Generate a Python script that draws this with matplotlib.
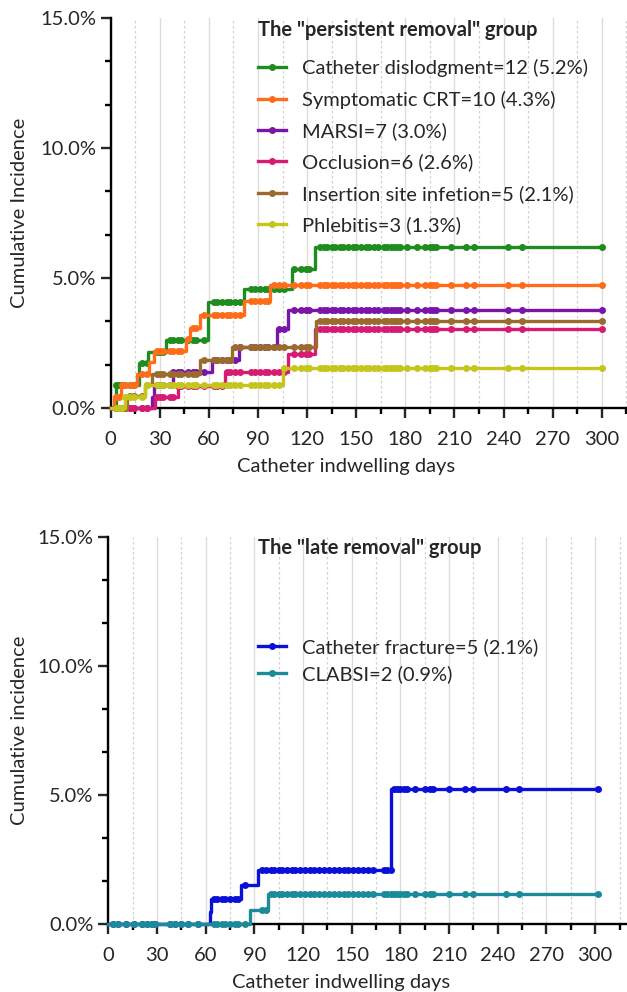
import numpy as np
import matplotlib
matplotlib.use('Agg')
import matplotlib.pyplot as plt
from matplotlib.ticker import MultipleLocator, FuncFormatter

plt.rcParams['font.family'] = ['Lato', 'DejaVu Sans']

# "persistent removal" group: event days and cumulative incidence (%)
green_days = [0, 3, 17, 23, 34, 59.5, 81.5, 111, 124.5]
green_ci = [0, 0.88, 1.72, 2.17, 2.63, 4.08, 4.59, 5.33, 6.2]
orange_days = [0, 2, 6, 16, 23.5, 26.5, 46, 48.5, 54.5, 81.5, 97.5]
orange_ci = [0, 0.42, 0.87, 1.32, 1.77, 2.2, 2.64, 3.07, 3.58, 4.1, 4.72]
purple_days = [0, 25, 26.5, 38, 62, 78.5, 101.5, 108.5]
purple_ci = [0, 0.42, 0.88, 1.37, 1.85, 2.36, 3.03, 3.76]
magenta_days = [0, 27, 41, 70, 108, 124.5]
magenta_ci = [0, 0.42, 0.86, 1.4, 2.09, 3.02]
brown_days = [0, 10, 21, 25, 54.5, 74, 125.5]
brown_ci = [0, 0.46, 0.88, 1.3, 1.83, 2.34, 3.33]
yellow_days = [0, 9, 21, 105.5]
yellow_ci = [0, 0.44, 0.88, 1.55]

top_labels = ['Catheter dislodgment=12 (5.2%)', 'Symptomatic CRT=10 (4.3%)',
              'MARSI=7 (3.0%)', 'Occlusion=6 (2.6%)',
              'Insertion site infetion=5 (2.1%)', 'Phlebitis=3 (1.3%)']
top_colors = ['#1e8c1e', '#ff6d1a', '#7b14a8', '#d81b72', '#9a6a2e', '#c5c51c']

top_censor = [3, 5, 7, 9, 12, 14, 19, 22, 28, 30, 32, 36, 38, 41, 43, 47, 50, 52,
              57, 63, 65, 68, 71, 73, 76, 79, 86, 88, 91, 94, 96, 100, 103, 106,
              112, 116, 119, 121, 128, 130, 132, 135, 137, 140, 142, 145, 148,
              150, 153, 156, 158, 161, 163, 167, 169, 171, 173, 175, 177, 181,
              187, 192, 195, 197, 199, 208, 217, 222, 243, 251, 300]

# "late removal" group
blue_days = [0, 62.5, 63.5, 81.5, 92.5, 174.5]
blue_ci = [0, 0.49, 0.98, 1.51, 2.09, 5.23]
teal_days = [0, 87.5, 98.5]
teal_ci = [0, 0.55, 1.17]

bottom_labels = ['Catheter fracture=5 (2.1%)', 'CLABSI=2 (0.9%)']
bottom_colors = ['#0b10d8', '#1b8a99']

bottom_censor = [3, 6, 11, 16, 21, 24, 27, 29, 38, 41, 45, 49, 55, 65, 67, 70, 72,
                 75, 78, 80, 84, 95, 97, 100, 102, 105, 107, 110, 113, 115, 118,
                 121, 124, 127, 130, 133, 136, 139, 142, 145, 148, 151, 154, 157,
                 160, 163, 170, 172, 174, 176, 178, 180, 182, 184, 189, 195, 198,
                 200, 210, 220, 225, 245, 253, 302]

x_ticks = [0, 30, 60, 90, 120, 150, 180, 210, 240, 270, 300]
FS = 14.5
TXT = '#262626'


def draw_curve(ax, days, ci, censor, color):
    end = censor[-1]
    xs = list(days) + [end]
    ys = list(ci) + [ci[-1]]
    ax.step(xs, ys, where='post', color=color, lw=2.4, clip_on=False, zorder=3)
    idx = np.searchsorted(days, censor, side='right') - 1
    vals = np.array(ci)[idx]
    ax.plot(censor, vals, 'o', color=color, ms=4, clip_on=False, zorder=3)


def style_axes(ax, xmax, ylabel):
    ax.set_xlim(0, xmax)
    ax.set_ylim(0, 15)
    ax.xaxis.set_minor_locator(MultipleLocator(15))
    ax.yaxis.set_major_locator(MultipleLocator(5))
    ax.yaxis.set_minor_locator(MultipleLocator(5 / 3))
    ax.set_xticks(x_ticks)
    ax.yaxis.set_major_formatter(FuncFormatter(lambda v, p: f'{v:.1f}%'))
    for s in ['top', 'right']:
        ax.spines[s].set_visible(False)
    for s in ['left', 'bottom']:
        ax.spines[s].set_linewidth(1.7)
        ax.spines[s].set_zorder(2)
    ax.tick_params(which='major', length=7, width=1.7, labelsize=FS, colors=TXT)
    ax.tick_params(axis='x', which='major', pad=9.5)
    ax.tick_params(which='minor', length=4, width=1.7)
    ax.grid(True, axis='x', which='major', color='#dcdcdc', lw=1.0, zorder=0)
    ax.grid(True, axis='x', which='minor', color='#d0d0d0', lw=0.9, ls=(0, (2, 2)), zorder=0)
    ax.set_xlabel('Catheter indwelling days', fontsize=FS, color=TXT)
    ax.set_ylabel(ylabel, fontsize=FS, color=TXT)


fig = plt.figure(figsize=(6.27, 9.92), dpi=100)

ax1 = fig.add_axes([0.1766, 0.5887, 0.8234, 0.3931])
style_axes(ax1, 315.4, 'Cumulative Incidence')
top_series = [(green_days, green_ci), (orange_days, orange_ci), (purple_days, purple_ci),
              (magenta_days, magenta_ci), (brown_days, brown_ci), (yellow_days, yellow_ci)]
handles = []
for (d, c), col, lab in zip(top_series, top_colors, top_labels):
    draw_curve(ax1, d, c, top_censor, col)
    h, = ax1.plot([], [], '-o', color=col, lw=2.4, ms=4, label=lab)
    handles.append(h)
ax1.text(0.285, 0.969, 'The "persistent removal" group', transform=ax1.transAxes,
         fontsize=FS, fontweight='bold', color=TXT, va='center', ha='left')
ax1.legend(handles=handles, loc='upper left', bbox_to_anchor=(0.285, 0.895),
           frameon=False, fontsize=FS, handlelength=1.4, handletextpad=0.8,
           labelspacing=0.67, borderpad=0, borderaxespad=0, labelcolor=TXT)
ax1.xaxis.set_label_coords(0.456, -0.128)
ax1.yaxis.set_label_coords(-0.16, 0.5)

ax2 = fig.add_axes([0.1727, 0.0682, 0.8273, 0.3908])
style_axes(ax2, 319.6, 'Cumulative incidence')
bottom_series = [(blue_days, blue_ci), (teal_days, teal_ci)]
handles2 = []
for (d, c), col, lab in zip(bottom_series, bottom_colors, bottom_labels):
    draw_curve(ax2, d, c, bottom_censor, col)
    h, = ax2.plot([], [], '-o', color=col, lw=2.4, ms=4, label=lab)
    handles2.append(h)
ax2.text(0.289, 0.971, 'The "late removal" group', transform=ax2.transAxes,
         fontsize=FS, fontweight='bold', color=TXT, va='center', ha='left')
ax2.legend(handles=handles2, loc='upper left', bbox_to_anchor=(0.289, 0.738),
           frameon=False, fontsize=FS, handlelength=1.4, handletextpad=0.8,
           labelspacing=0.45, borderpad=0, borderaxespad=0, labelcolor=TXT)
ax2.xaxis.set_label_coords(0.449, -0.128)
ax2.yaxis.set_label_coords(-0.155, 0.5)

fig.savefig('out.png', dpi=100)
